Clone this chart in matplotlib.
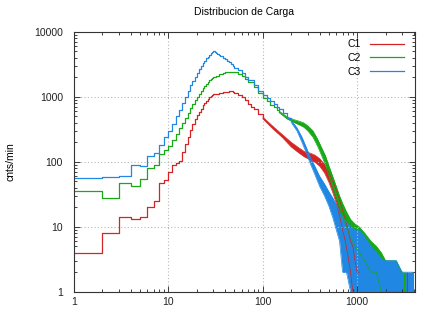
import numpy as np
import matplotlib.pyplot as plt
from matplotlib.ticker import FixedLocator, LogLocator, NullFormatter

# ---- data (channel -> counts/min) ----
# clean part of each histogram (integer channels, drawn as steps)
c1_ch = [1, 2, 3, 4, 5, 6, 7, 8, 9, 10, 11, 12, 13, 14, 15, 16, 17, 18, 19, 20,
         21, 22, 23, 24, 25, 26, 27, 28, 29, 30, 32, 34, 36, 38, 40, 42, 44, 46,
         48, 50, 55, 60, 65, 70, 75, 80, 90, 100]
c1_val = [4, 8, 14, 13, 14, 20, 25, 48, 52, 70, 88, 97, 104, 140, 185, 240, 310,
          380, 450, 520, 590, 660, 740, 810, 870, 930, 990, 1030, 1060, 1090, 1120,
          1160, 1140, 1190, 1200, 1170, 1240, 1220, 1190, 1150, 1080, 980, 880, 790,
          710, 640, 550, 475]

c2_ch = [1, 2, 3, 4, 5, 6, 7, 8, 9, 10, 11, 12, 13, 14, 15, 16, 17, 18, 19, 20,
         21, 22, 23, 24, 25, 26, 27, 28, 29, 30, 32, 34, 36, 38, 40, 42, 44, 46,
         48, 50, 55, 60, 65, 70, 80, 90, 100, 110, 120, 130, 140, 150]
c2_val = [36, 28, 48, 43, 55, 80, 88, 130, 150, 175, 215, 270, 330, 400, 480, 570,
          670, 780, 890, 1000, 1120, 1240, 1360, 1480, 1590, 1700, 1800, 1880, 1960,
          2030, 2130, 2220, 2290, 2340, 2380, 2410, 2440, 2450, 2420, 2380, 2250,
          2100, 1900, 1720, 1400, 1150, 950, 850, 760, 690, 630, 580]

c3_ch = [1, 2, 3, 4, 5, 6, 7, 8, 9, 10, 11, 12, 13, 14, 15, 16, 17, 18, 19, 20,
         21, 22, 23, 24, 25, 26, 27, 28, 29, 30, 31, 32, 33, 34, 35, 36, 38, 40,
         42, 44, 46, 48, 50, 55, 60, 65, 70, 80, 90, 100, 110, 120, 130, 140, 150,
         165, 180, 200]
c3_val = [57, 58, 60, 88, 86, 125, 135, 180, 240, 300, 380, 500, 620, 800, 980,
          1250, 1500, 1750, 2050, 2350, 2650, 2950, 3300, 3600, 3900, 4150, 4450,
          4700, 4900, 5000, 4900, 4750, 4600, 4450, 4300, 4200, 4000, 3800, 3600,
          3400, 3200, 3000, 2800, 2550, 2300, 2050, 1850, 1500, 1250, 1080, 960,
          860, 780, 710, 650, 560, 480, 420]

# noisy tails: lower / upper envelope of the scatter
c1_tail_ch = [100, 130, 160, 200, 240, 280, 320, 360, 400, 450, 500, 550, 600,
              650, 700, 750, 800, 850, 900, 950, 1000, 1060]
c1_tail_lo = [460, 315, 240, 170, 138, 118, 108, 98, 86, 68, 49, 34, 23, 15, 9,
              6, 3.5, 2, 1, 0.5, 0.5, 0.5]
c1_tail_hi = [490, 345, 265, 200, 165, 142, 136, 126, 112, 92, 69, 51, 37, 26,
              18, 13, 9, 6, 5, 3, 2, 2]

c2_tail_ch = [150, 180, 210, 240, 270, 300, 340, 380, 420, 460, 500, 550, 600,
              650, 700, 770, 850, 950, 1050, 1200, 1400, 1600, 1800, 2000, 2300,
              2600, 2900, 3050]
c2_tail_lo = [570, 460, 410, 375, 345, 300, 240, 175, 125, 90, 62, 40, 27, 19,
              14, 10, 7, 5, 4, 3, 2, 2, 1, 1, 1, 1, 1, 0.5]
c2_tail_hi = [600, 495, 450, 425, 400, 360, 300, 225, 165, 125, 88, 60, 42, 30,
              23, 17, 13, 11, 10, 8, 6, 5, 4, 3, 3, 3, 2, 2]

c3_tail_ch = [200, 230, 260, 290, 320, 350, 400, 450, 500, 550, 600, 650, 700,
              770, 850, 950, 1050, 1200, 1400, 1600, 1900, 2200, 2600, 3000,
              3400, 3900]
c3_tail_lo = [405, 300, 200, 135, 92, 68, 42, 30, 21, 14, 9, 6, 2, 2, 1, 1, 0.5,
              0.5, 0.5, 0.5, 0.5, 0.5, 0.5, 0.5, 0.5, 0.5]
c3_tail_hi = [435, 335, 240, 165, 115, 90, 60, 46, 35, 28, 22, 17, 14, 12, 10, 9,
              9, 7, 5, 4, 3, 3, 3, 2, 2, 2]

# isolated single-count spikes at the far right
c1_spike_ch = [3350]
c2_spike_ch = [3100, 3200]
c3_spike_ch = [3550, 3750, 3950]

labels = ['C1', 'C2', 'C3']
colors = ['#d42424', '#18a818', '#2088e2']

plt.rcParams['font.family'] = ['Liberation Sans', 'DejaVu Sans']

fig = plt.figure(figsize=(4.23, 3.13), dpi=100)
ax = fig.add_axes([0.175, 0.068, 0.806, 0.830])

series = [
    (c1_ch, c1_val, c1_tail_ch, c1_tail_lo, c1_tail_hi, c1_spike_ch),
    (c2_ch, c2_val, c2_tail_ch, c2_tail_lo, c2_tail_hi, c2_spike_ch),
    (c3_ch, c3_val, c3_tail_ch, c3_tail_lo, c3_tail_hi, c3_spike_ch),
]
for (ch, val, tch, tlo, thi, spk), lab, c in zip(series, labels, colors):
    ax.plot(ch, val, drawstyle='steps-post', color=c, lw=0.9, label=lab)
    ax.fill_between(tch, tlo, thi, color=c, lw=0)
    ax.plot(tch, tlo, color=c, lw=0.5)
    ax.plot(tch, thi, color=c, lw=0.5)
    ax.vlines(spk, 0.5, 2, color=c, lw=0.8)

ax.set_xscale('log')
ax.set_yscale('log')
ax.set_xlim(1, 4096)
ax.set_ylim(1, 10000)

ax.xaxis.set_major_locator(FixedLocator([1, 10, 100, 1000]))
ax.yaxis.set_major_locator(FixedLocator([1, 10, 100, 1000, 10000]))
ax.set_xticklabels(['1', '10', '100', '1000'])
ax.set_yticklabels(['1', '10', '100', '1000', '10000'])
ax.xaxis.set_minor_locator(LogLocator(base=10, subs=np.arange(2, 10)))
ax.yaxis.set_minor_locator(LogLocator(base=10, subs=np.arange(2, 10)))
ax.xaxis.set_minor_formatter(NullFormatter())
ax.yaxis.set_minor_formatter(NullFormatter())
ax.tick_params(which='both', direction='in', top=True, right=True,
               labelsize=7.5, colors='#222222', width=0.6)
ax.tick_params(which='major', length=4)
ax.tick_params(axis='y', which='major', pad=8)
ax.tick_params(axis='x', which='major', pad=4)
ax.tick_params(which='minor', length=2)
ax.grid(True, which='major', color='#b8b8b8', ls=(0, (1, 2)), lw=0.8)
for s in ax.spines.values():
    s.set_linewidth(0.8)
    s.set_color('#333333')

ax.set_ylabel('cnts/min', fontsize=7.5, labelpad=13)
ax.set_title('Distribucion de Carga', fontsize=7.5, pad=12)
ax.legend(loc='upper right', frameon=False, fontsize=7.5, markerfirst=False,
          handlelength=3.2, handletextpad=0.9, labelspacing=0.35,
          borderaxespad=0.2, bbox_to_anchor=(0.985, 0.995))

fig.savefig('out.png', dpi=100)
